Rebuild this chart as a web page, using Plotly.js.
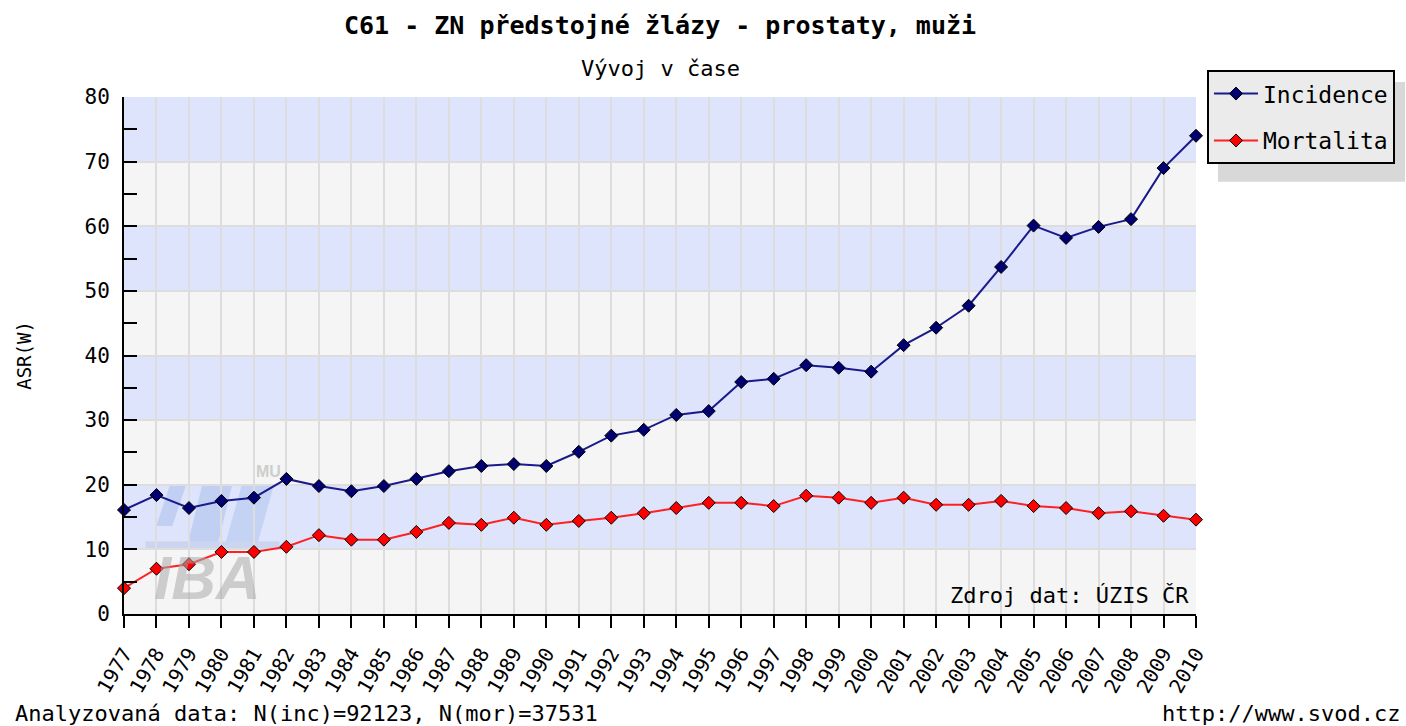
<!DOCTYPE html>
<html><head><meta charset="utf-8">
<script src="https://cdn.plot.ly/plotly-3.0.1.min.js"></script>
<style>body{margin:0;background:#fff}#c{width:1406px;height:726px}</style>
</head><body><div id="c"></div>
<script>
var years = [1977,1978,1979,1980,1981,1982,1983,1984,1985,1986,1987,1988,1989,1990,1991,1992,1993,1994,1995,1996,1997,1998,1999,2000,2001,2002,2003,2004,2005,2006,2007,2008,2009,2010];
var incidence = [16.1,18.4,16.4,17.5,18.0,20.9,19.8,19.0,19.8,20.9,22.1,22.9,23.2,22.9,25.1,27.6,28.5,30.8,31.4,35.9,36.4,38.5,38.1,37.5,41.6,44.3,47.7,53.7,60.1,58.2,59.9,61.1,69.0,74.0];
var mortalita = [4.0,7.0,7.7,9.6,9.6,10.4,12.2,11.5,11.5,12.7,14.1,13.8,14.9,13.8,14.4,14.9,15.6,16.4,17.2,17.2,16.7,18.3,18.0,17.2,18.0,16.9,16.9,17.5,16.7,16.4,15.6,15.9,15.2,14.6];
var seriesNames = ["Incidence","Mortalita"];
var yTicks = [0,10,20,30,40,50,60,70,80];
var bandStarts = [10,30,50,70];

var mono = "DejaVu Sans Mono, Liberation Mono, monospace";
var shapes = bandStarts.map(function(b){
  return {type:'rect', xref:'paper', yref:'y', x0:0, x1:1, y0:b, y1:b+10, fillcolor:'#dde4fc', line:{width:0}, layer:'below'};
});
// legend shadow
shapes.push({type:'rect', xref:'paper', yref:'paper', x0:1.0205, x1:1.195, y0:0.836, y1:1.029, fillcolor:'#d8d8d8', line:{width:0}, layer:'below'});
// watermark blocks
shapes.push({type:'path', xref:'paper', yref:'paper', path:'M 0.03 0.17 L 0.045 0.17 L 0.058 0.25 L 0.043 0.25 Z', fillcolor:'rgba(140,170,225,0.35)', line:{width:0}, layer:'between'});
shapes.push({type:'path', xref:'paper', yref:'paper', path:'M 0.06 0.14 L 0.088 0.14 L 0.101 0.25 L 0.073 0.25 Z', fillcolor:'rgba(140,170,225,0.35)', line:{width:0}, layer:'between'});
shapes.push({type:'path', xref:'paper', yref:'paper', path:'M 0.095 0.14 L 0.125 0.14 L 0.14 0.25 L 0.11 0.25 Z', fillcolor:'rgba(140,170,225,0.3)', line:{width:0}, layer:'between'});
shapes.push({type:'rect', xref:'paper', yref:'paper', x0:0.02, x1:0.145, y0:0.125, y1:0.14, fillcolor:'rgba(170,185,215,0.35)', line:{width:0}, layer:'between'});

var traces = [
  {x:years, y:incidence, name:seriesNames[0], legendgroup:'a', mode:'lines+markers', cliponaxis:false,
   line:{color:'#1a1a8c', width:2}, marker:{symbol:'diamond', size:10, color:'#000070', line:{color:'#000', width:1}}},
  {x:years, y:mortalita, name:seriesNames[1], legendgroup:'b', mode:'lines+markers', cliponaxis:false,
   line:{color:'#ff2020', width:2}, marker:{symbol:'diamond', size:10, color:'#ff0000', line:{color:'#000', width:1}}}
];

var layout = {
  width:1406, height:726,
  margin:{l:124, r:209, t:97, b:112, pad:0},
  paper_bgcolor:'#ffffff', plot_bgcolor:'#f5f5f5',
  font:{family:mono, color:'#000', size:20},
  showlegend:true,
  legend:{x:1.0093, y:1.052, xanchor:'left', yanchor:'top', bgcolor:'#ebebeb', bordercolor:'#000', borderwidth:2,
          font:{family:mono, size:23, color:'#000'}, tracegroupgap:14, itemwidth:44, traceorder:'grouped'},
  xaxis:{type:'linear', range:[1977,2010], tickmode:'array', tickvals:years, ticktext:years.map(String),
         tickangle:-60, ticks:'outside', ticklen:12, tickwidth:2, tickcolor:'#000', ticklabelstandoff:6,
         showline:true, linecolor:'#000', linewidth:2, showgrid:true, gridcolor:'#dddddd', gridwidth:2,
         zeroline:false, tickfont:{family:mono, size:20}},
  yaxis:{range:[0,80], tickmode:'array', tickvals:yTicks, ticks:'inside', ticklen:13, tickwidth:2, tickcolor:'#000',
         minor:{dtick:5, ticks:'inside', ticklen:13, tickwidth:2, tickcolor:'#000', showgrid:false},
         ticklabelstandoff:8,
         showline:true, linecolor:'#000', linewidth:2, showgrid:true, gridcolor:'#dddddd', gridwidth:2,
         zeroline:false, tickfont:{family:mono, size:21},
         title:{text:'ASR(W)', font:{family:mono, size:19}, standoff:48}},
  title:{text:'<b>C61 - ZN předstojné žlázy - prostaty, muži</b>', font:{family:mono, size:25}, x:0.5, xref:'paper', xanchor:'center', y:0.9656, yanchor:'middle'},
  shapes:shapes,
  annotations:[
    {text:'Vývoj v čase', xref:'paper', yref:'paper', x:0.5, y:1.056, xanchor:'center', yanchor:'middle', showarrow:false, font:{family:mono, size:22}},
    {text:'Zdroj dat: ÚZIS ČR', xref:'paper', yref:'paper', x:0.995, y:0.035, xanchor:'right', yanchor:'middle', showarrow:false, font:{family:mono, size:22}},
    {text:'Analyzovaná data: N(inc)=92123, N(mor)=37531', xref:'paper', yref:'paper', x:-0.104, y:-0.192, xanchor:'left', yanchor:'middle', showarrow:false, font:{family:mono, size:22}},
    {text:'http://www.svod.cz', xref:'paper', yref:'paper', x:1.1925, y:-0.192, xanchor:'right', yanchor:'middle', showarrow:false, font:{family:mono, size:22}},
    {text:'<b><i>IBA</i></b>', xref:'paper', yref:'paper', x:0.078, y:0.07, xanchor:'center', yanchor:'middle', showarrow:false, font:{family:'Liberation Sans, Arial', size:62, color:'rgba(170,170,170,0.55)'}},
    {text:'<b>MU</b>', xref:'paper', yref:'paper', x:0.135, y:0.275, xanchor:'center', yanchor:'middle', showarrow:false, font:{family:'Liberation Sans, Arial', size:16, color:'rgba(170,170,170,0.55)'}}
  ]
};
Plotly.newPlot('c', traces, layout, {displayModeBar:false, staticPlot:true});
</script></body></html>
